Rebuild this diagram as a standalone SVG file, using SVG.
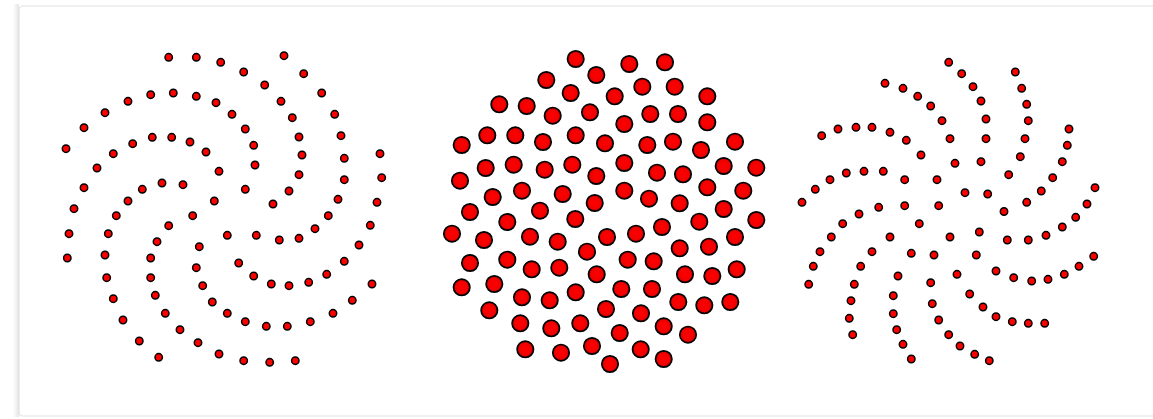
<svg xmlns="http://www.w3.org/2000/svg" width="1153" height="419" viewBox="0 0 1153 419">
<defs>
<radialGradient id="bg" cx="50%" cy="50%" r="50%">
<stop offset="0" stop-color="#ff0000"/>
<stop offset="0.75" stop-color="#f00000"/>
<stop offset="1" stop-color="#a00000"/>
</radialGradient>
<linearGradient id="sh" x1="0" x2="1" y1="0" y2="0">
<stop offset="0" stop-color="#ffffff"/>
<stop offset="1" stop-color="#e4e4e4"/>
</linearGradient>
</defs>
<style>
.s{fill:#ff0000;stroke:#000;stroke-width:1.5}
.b{fill:url(#bg);stroke:#000;stroke-width:1.7}
.frame{fill:#fff;stroke:#e2e2e2;stroke-width:1.2}
</style>
<rect x="0" y="0" width="1153" height="419" fill="#fff"/>
<rect x="13" y="4" width="6" height="413" fill="url(#sh)"/>
<rect class="frame" x="19" y="6" width="1150" height="410" rx="4"/>
<g id="spiral-left">
<circle class="s" r="3.7" cx="168.7" cy="57.3"/><circle class="s" r="3.7" cx="196.3" cy="57.3"/><circle class="s" r="3.7" cx="220.7" cy="62.3"/><circle class="s" r="3.7" cx="128" cy="101.3"/><circle class="s" r="3.7" cx="150.7" cy="94.7"/><circle class="s" r="3.7" cx="173.3" cy="93"/><circle class="s" r="3.7" cx="196.3" cy="96.3"/><circle class="s" r="3.7" cx="216" cy="102.7"/><circle class="s" r="3.7" cx="105" cy="112.7"/><circle class="s" r="3.7" cx="84" cy="127.7"/><circle class="s" r="3.7" cx="66" cy="148.7"/><circle class="s" r="3.7" cx="152.3" cy="137.3"/><circle class="s" r="3.7" cx="171.7" cy="137.3"/><circle class="s" r="3.7" cx="190" cy="142"/><circle class="s" r="3.7" cx="206" cy="152"/><circle class="s" r="3.7" cx="132.7" cy="143.7"/><circle class="s" r="3.7" cx="113.3" cy="153.7"/><circle class="s" r="3.7" cx="97" cy="168"/><circle class="s" r="3.7" cx="219" cy="171.3"/><circle class="s" r="3.7" cx="84" cy="187.7"/><circle class="s" r="3.7" cx="142.3" cy="189.3"/><circle class="s" r="3.7" cx="162" cy="183"/><circle class="s" r="3.7" cx="183" cy="184.7"/><circle class="s" r="3.7" cx="128" cy="201"/><circle class="s" r="3.7" cx="214.3" cy="201"/><circle class="s" r="3.7" cx="74" cy="208.7"/>
<circle class="s" r="3.7" cx="284" cy="55.7"/><circle class="s" r="3.7" cx="243.7" cy="72"/><circle class="s" r="3.7" cx="303.7" cy="73.7"/><circle class="s" r="3.7" cx="264.7" cy="85"/><circle class="s" r="3.7" cx="321.7" cy="93"/><circle class="s" r="3.7" cx="281" cy="101.3"/><circle class="s" r="3.7" cx="232" cy="114.3"/><circle class="s" r="3.7" cx="292.3" cy="117.7"/><circle class="s" r="3.7" cx="334.7" cy="114.3"/><circle class="s" r="3.7" cx="245.3" cy="129"/><circle class="s" r="3.7" cx="299" cy="137"/><circle class="s" r="3.7" cx="341" cy="135.7"/><circle class="s" r="3.7" cx="253.7" cy="145.3"/><circle class="s" r="3.7" cx="302" cy="155"/><circle class="s" r="3.7" cx="344.3" cy="158.3"/><circle class="s" r="3.7" cx="380" cy="153.7"/><circle class="s" r="3.7" cx="255" cy="165"/><circle class="s" r="3.7" cx="299" cy="174.7"/><circle class="s" r="3.7" cx="344.3" cy="179.7"/><circle class="s" r="3.7" cx="381.7" cy="177.7"/><circle class="s" r="3.7" cx="245.3" cy="189.3"/><circle class="s" r="3.7" cx="289" cy="191"/><circle class="s" r="3.7" cx="273" cy="204"/><circle class="s" r="3.7" cx="338" cy="199.3"/><circle class="s" r="3.7" cx="377" cy="202.3"/>
<circle class="s" r="3.7" cx="116.3" cy="215.7"/><circle class="s" r="3.7" cx="69" cy="233.7"/><circle class="s" r="3.7" cx="108.3" cy="233.7"/><circle class="s" r="3.7" cx="67.3" cy="258"/><circle class="s" r="3.7" cx="105" cy="255"/><circle class="s" r="3.7" cx="168.7" cy="225.7"/><circle class="s" r="3.7" cx="192.7" cy="215.7"/><circle class="s" r="3.7" cx="157" cy="241.7"/><circle class="s" r="3.7" cx="150.7" cy="258"/><circle class="s" r="3.7" cx="199.3" cy="246.7"/><circle class="s" r="3.7" cx="106.7" cy="277.7"/><circle class="s" r="3.7" cx="150.7" cy="277.7"/><circle class="s" r="3.7" cx="196.3" cy="267.7"/><circle class="s" r="3.7" cx="113.3" cy="298.7"/><circle class="s" r="3.7" cx="155.3" cy="295.3"/><circle class="s" r="3.7" cx="202.7" cy="285.7"/><circle class="s" r="3.7" cx="123" cy="320"/><circle class="s" r="3.7" cx="165.3" cy="313.3"/><circle class="s" r="3.7" cx="212.3" cy="302"/><circle class="s" r="3.7" cx="139.3" cy="341"/><circle class="s" r="3.7" cx="180" cy="329.7"/><circle class="s" r="3.7" cx="198" cy="342.7"/><circle class="s" r="3.7" cx="158.7" cy="357.3"/><circle class="s" r="3.7" cx="219" cy="354"/>
<circle class="s" r="3.7" cx="328.3" cy="215.7"/><circle class="s" r="3.7" cx="227.3" cy="235.3"/><circle class="s" r="3.7" cx="256.3" cy="235.3"/><circle class="s" r="3.7" cx="279.3" cy="240"/><circle class="s" r="3.7" cx="299" cy="238.3"/><circle class="s" r="3.7" cx="315" cy="228.7"/><circle class="s" r="3.7" cx="370.3" cy="225.3"/><circle class="s" r="3.7" cx="359" cy="245"/><circle class="s" r="3.7" cx="344.3" cy="261.3"/><circle class="s" r="3.7" cx="238.7" cy="263"/><circle class="s" r="3.7" cx="253.7" cy="276"/><circle class="s" r="3.7" cx="271.3" cy="284"/><circle class="s" r="3.7" cx="289" cy="285.7"/><circle class="s" r="3.7" cx="308.7" cy="282.3"/><circle class="s" r="3.7" cx="326.7" cy="274.3"/><circle class="s" r="3.7" cx="372" cy="284"/><circle class="s" r="3.7" cx="352.3" cy="300.3"/><circle class="s" r="3.7" cx="333" cy="313.3"/><circle class="s" r="3.7" cx="227.3" cy="313.3"/><circle class="s" r="3.7" cx="245.3" cy="321.7"/><circle class="s" r="3.7" cx="266.3" cy="326.3"/><circle class="s" r="3.7" cx="287.3" cy="326.3"/><circle class="s" r="3.7" cx="310.3" cy="321.7"/><circle class="s" r="3.7" cx="243.7" cy="360.7"/><circle class="s" r="3.7" cx="269.7" cy="362.3"/><circle class="s" r="3.7" cx="295.3" cy="360.7"/>
</g>
<g id="sunflower-middle">
<circle class="b" r="8.2" cx="575.7" cy="59"/><circle class="b" r="8.2" cx="596.3" cy="75"/><circle class="b" r="8.2" cx="546.3" cy="80"/><circle class="b" r="8.2" cx="570.7" cy="93"/><circle class="b" r="8.2" cx="499.3" cy="104.3"/><circle class="b" r="8.2" cx="526.7" cy="106"/><circle class="b" r="8.2" cx="552.7" cy="115.7"/><circle class="b" r="8.2" cx="590" cy="112.3"/><circle class="b" r="8.2" cx="461.7" cy="145"/><circle class="b" r="8.2" cx="487.3" cy="135.3"/><circle class="b" r="8.2" cx="515.3" cy="135.3"/><circle class="b" r="8.2" cx="543" cy="142"/><circle class="b" r="8.2" cx="575.7" cy="135.3"/><circle class="b" r="8.2" cx="605" cy="143.3"/><circle class="b" r="8.2" cx="460" cy="180.7"/><circle class="b" r="8.2" cx="485.7" cy="168"/><circle class="b" r="8.2" cx="513.7" cy="164.7"/><circle class="b" r="8.2" cx="544.7" cy="169.7"/><circle class="b" r="8.2" cx="572.3" cy="164.7"/><circle class="b" r="8.2" cx="596.3" cy="176"/><circle class="b" r="8.2" cx="492.7" cy="197"/><circle class="b" r="8.2" cx="522" cy="190.7"/><circle class="b" r="8.2" cx="562.7" cy="194"/><circle class="b" r="8.2" cx="594.7" cy="203"/><circle class="b" r="8.2" cx="470" cy="212"/><circle class="b" r="8.2" cx="540" cy="210.7"/>
<circle class="b" r="8.2" cx="629.3" cy="64"/><circle class="b" r="8.2" cx="665" cy="62.3"/><circle class="b" r="8.2" cx="642.3" cy="86.7"/><circle class="b" r="8.2" cx="674.7" cy="86.7"/><circle class="b" r="8.2" cx="614.7" cy="96.3"/><circle class="b" r="8.2" cx="707.3" cy="96.3"/><circle class="b" r="8.2" cx="650.3" cy="114"/><circle class="b" r="8.2" cx="678" cy="114"/><circle class="b" r="8.2" cx="624.3" cy="124"/><circle class="b" r="8.2" cx="707.3" cy="122.3"/><circle class="b" r="8.2" cx="647.3" cy="145"/><circle class="b" r="8.2" cx="673" cy="141.7"/><circle class="b" r="8.2" cx="701" cy="150"/><circle class="b" r="8.2" cx="735" cy="141.7"/><circle class="b" r="8.2" cx="624.3" cy="163"/><circle class="b" r="8.2" cx="657" cy="172.7"/><circle class="b" r="8.2" cx="683" cy="174.3"/><circle class="b" r="8.2" cx="723.7" cy="166"/><circle class="b" r="8.2" cx="756.3" cy="167.7"/><circle class="b" r="8.2" cx="624.3" cy="190.7"/><circle class="b" r="8.2" cx="649" cy="198.7"/><circle class="b" r="8.2" cx="679.7" cy="203.3"/><circle class="b" r="8.2" cx="707.3" cy="187.3"/><circle class="b" r="8.2" cx="743.3" cy="190.7"/><circle class="b" r="8.2" cx="723.7" cy="209"/>
<circle class="b" r="8.2" cx="575.3" cy="219"/><circle class="b" r="8.2" cx="452" cy="233.7"/><circle class="b" r="8.2" cx="507.3" cy="222"/><circle class="b" r="8.2" cx="484" cy="240"/><circle class="b" r="8.2" cx="530" cy="236.7"/><circle class="b" r="8.2" cx="557.7" cy="241.7"/><circle class="b" r="8.2" cx="607" cy="237"/><circle class="b" r="8.2" cx="470" cy="263"/><circle class="b" r="8.2" cx="507.3" cy="259.7"/><circle class="b" r="8.2" cx="531.7" cy="269.3"/><circle class="b" r="8.2" cx="559.3" cy="267.7"/><circle class="b" r="8.2" cx="587" cy="251.7"/><circle class="b" r="8.2" cx="596.7" cy="274.3"/><circle class="b" r="8.2" cx="461.7" cy="287.3"/><circle class="b" r="8.2" cx="494.3" cy="284"/><circle class="b" r="8.2" cx="522" cy="297.3"/><circle class="b" r="8.2" cx="549.7" cy="300.3"/><circle class="b" r="8.2" cx="575.7" cy="292.3"/><circle class="b" r="8.2" cx="606" cy="309"/><circle class="b" r="8.2" cx="489.3" cy="310.3"/><circle class="b" r="8.2" cx="520.3" cy="323.3"/><circle class="b" r="8.2" cx="551.3" cy="328.3"/><circle class="b" r="8.2" cx="580.3" cy="323.3"/><circle class="b" r="8.2" cx="525.3" cy="349.3"/><circle class="b" r="8.2" cx="561" cy="352.7"/><circle class="b" r="8.2" cx="592" cy="346"/><circle class="b" r="8.2" cx="610" cy="364"/>
<circle class="b" r="8.2" cx="756.3" cy="220"/><circle class="b" r="8.2" cx="636" cy="233.7"/><circle class="b" r="8.2" cx="662" cy="227"/><circle class="b" r="8.2" cx="699.3" cy="221.7"/><circle class="b" r="8.2" cx="679.7" cy="248.3"/><circle class="b" r="8.2" cx="709" cy="246.7"/><circle class="b" r="8.2" cx="735" cy="237"/><circle class="b" r="8.2" cx="627.7" cy="259.7"/><circle class="b" r="8.2" cx="653.7" cy="261.3"/><circle class="b" r="8.2" cx="685" cy="274.3"/><circle class="b" r="8.2" cx="712.3" cy="276"/><circle class="b" r="8.2" cx="736.7" cy="269.3"/><circle class="b" r="8.2" cx="621.3" cy="289"/><circle class="b" r="8.2" cx="652" cy="289"/><circle class="b" r="8.2" cx="678.3" cy="302"/><circle class="b" r="8.2" cx="704.3" cy="305.3"/><circle class="b" r="8.2" cx="730.3" cy="302"/><circle class="b" r="8.2" cx="641" cy="313.3"/><circle class="b" r="8.2" cx="663.7" cy="326.3"/><circle class="b" r="8.2" cx="688" cy="334.7"/><circle class="b" r="8.2" cx="619.7" cy="333"/><circle class="b" r="8.2" cx="640.7" cy="349.3"/><circle class="b" r="8.2" cx="663.7" cy="359"/>
</g>
<g id="spiral-right">
<circle class="s" r="3.7" cx="948.7" cy="62.3"/><circle class="s" r="3.7" cx="885" cy="83.3"/><circle class="s" r="3.7" cx="903" cy="88.3"/><circle class="s" r="3.7" cx="917.7" cy="96.3"/><circle class="s" r="3.7" cx="930.7" cy="106"/><circle class="s" r="3.7" cx="942" cy="120.7"/><circle class="s" r="3.7" cx="950" cy="138.7"/><circle class="s" r="3.7" cx="955" cy="163.3"/><circle class="s" r="3.7" cx="821.7" cy="135.7"/><circle class="s" r="3.7" cx="838" cy="129"/><circle class="s" r="3.7" cx="856" cy="127.3"/><circle class="s" r="3.7" cx="872" cy="127.3"/><circle class="s" r="3.7" cx="890" cy="132.3"/><circle class="s" r="3.7" cx="906.3" cy="140.3"/><circle class="s" r="3.7" cx="921" cy="155"/><circle class="s" r="3.7" cx="802" cy="202.3"/><circle class="s" r="3.7" cx="815.3" cy="189.3"/><circle class="s" r="3.7" cx="830" cy="179.7"/><circle class="s" r="3.7" cx="846.3" cy="173"/><circle class="s" r="3.7" cx="864" cy="171.3"/><circle class="s" r="3.7" cx="883.3" cy="171.3"/><circle class="s" r="3.7" cx="904.7" cy="179.7"/><circle class="s" r="3.7" cx="937" cy="179.7"/><circle class="s" r="3.7" cx="878.7" cy="207.3"/><circle class="s" r="3.7" cx="904.7" cy="205.7"/><circle class="s" r="3.7" cx="938.7" cy="205.7"/>
<circle class="s" r="3.7" cx="961.7" cy="73.7"/><circle class="s" r="3.7" cx="1015.3" cy="72"/><circle class="s" r="3.7" cx="973" cy="86.7"/><circle class="s" r="3.7" cx="1021.7" cy="88.3"/><circle class="s" r="3.7" cx="981" cy="101"/><circle class="s" r="3.7" cx="1026.7" cy="104.3"/><circle class="s" r="3.7" cx="986" cy="119"/><circle class="s" r="3.7" cx="1028.3" cy="120.7"/><circle class="s" r="3.7" cx="1069" cy="129"/><circle class="s" r="3.7" cx="986" cy="138.7"/><circle class="s" r="3.7" cx="1025" cy="138.7"/><circle class="s" r="3.7" cx="1067.3" cy="145.3"/><circle class="s" r="3.7" cx="981" cy="161.7"/><circle class="s" r="3.7" cx="1020.3" cy="156.7"/><circle class="s" r="3.7" cx="1062.3" cy="161.7"/><circle class="s" r="3.7" cx="1008.7" cy="174.7"/><circle class="s" r="3.7" cx="1052.7" cy="177.7"/><circle class="s" r="3.7" cx="1095" cy="187.7"/><circle class="s" r="3.7" cx="965" cy="192.7"/><circle class="s" r="3.7" cx="987.7" cy="194"/><circle class="s" r="3.7" cx="1041.3" cy="191"/><circle class="s" r="3.7" cx="1026.7" cy="202.3"/><circle class="s" r="3.7" cx="1087" cy="204"/><circle class="s" r="3.7" cx="1004" cy="211.5"/>
<circle class="s" r="3.7" cx="859" cy="214"/><circle class="s" r="3.7" cx="842.7" cy="223.7"/><circle class="s" r="3.7" cx="919.3" cy="223.7"/><circle class="s" r="3.7" cx="831.3" cy="237"/><circle class="s" r="3.7" cx="890" cy="237"/><circle class="s" r="3.7" cx="950" cy="237"/><circle class="s" r="3.7" cx="820" cy="251.7"/><circle class="s" r="3.7" cx="872" cy="251.7"/><circle class="s" r="3.7" cx="911.3" cy="253.3"/><circle class="s" r="3.7" cx="934" cy="255"/><circle class="s" r="3.7" cx="813.3" cy="266.3"/><circle class="s" r="3.7" cx="860.7" cy="266.3"/><circle class="s" r="3.7" cx="898" cy="276"/><circle class="s" r="3.7" cx="957" cy="274.3"/><circle class="s" r="3.7" cx="808.7" cy="284.3"/><circle class="s" r="3.7" cx="854.3" cy="284.3"/><circle class="s" r="3.7" cx="930.7" cy="282.7"/><circle class="s" r="3.7" cx="851" cy="300.7"/><circle class="s" r="3.7" cx="893.3" cy="295.7"/><circle class="s" r="3.7" cx="932.3" cy="303.7"/><circle class="s" r="3.7" cx="849.3" cy="318.3"/><circle class="s" r="3.7" cx="893.3" cy="313.7"/><circle class="s" r="3.7" cx="938.7" cy="320"/><circle class="s" r="3.7" cx="852.7" cy="334.7"/><circle class="s" r="3.7" cx="896.7" cy="329.7"/><circle class="s" r="3.7" cx="948.7" cy="334.7"/><circle class="s" r="3.7" cx="903" cy="344.3"/><circle class="s" r="3.7" cx="911.3" cy="359"/>
<circle class="s" r="3.7" cx="1075.7" cy="217.3"/><circle class="s" r="3.7" cx="1062.3" cy="227"/><circle class="s" r="3.7" cx="1046" cy="235.3"/><circle class="s" r="3.7" cx="1028.3" cy="240"/><circle class="s" r="3.7" cx="1007.3" cy="240"/><circle class="s" r="3.7" cx="979.3" cy="232"/><circle class="s" r="3.7" cx="976.3" cy="255"/><circle class="s" r="3.7" cx="996" cy="271"/><circle class="s" r="3.7" cx="1013.7" cy="277.7"/><circle class="s" r="3.7" cx="1031.7" cy="281"/><circle class="s" r="3.7" cx="1048" cy="279.3"/><circle class="s" r="3.7" cx="1064.3" cy="274.3"/><circle class="s" r="3.7" cx="1079" cy="266.3"/><circle class="s" r="3.7" cx="1093.7" cy="256.3"/><circle class="s" r="3.7" cx="969.7" cy="294"/><circle class="s" r="3.7" cx="983" cy="307"/><circle class="s" r="3.7" cx="996" cy="316.7"/><circle class="s" r="3.7" cx="1012.3" cy="321.7"/><circle class="s" r="3.7" cx="1028.3" cy="323.3"/><circle class="s" r="3.7" cx="1044.7" cy="323.3"/><circle class="s" r="3.7" cx="960" cy="346"/><circle class="s" r="3.7" cx="974.7" cy="354.3"/><circle class="s" r="3.7" cx="989.3" cy="360.7"/>
</g>
</svg>
